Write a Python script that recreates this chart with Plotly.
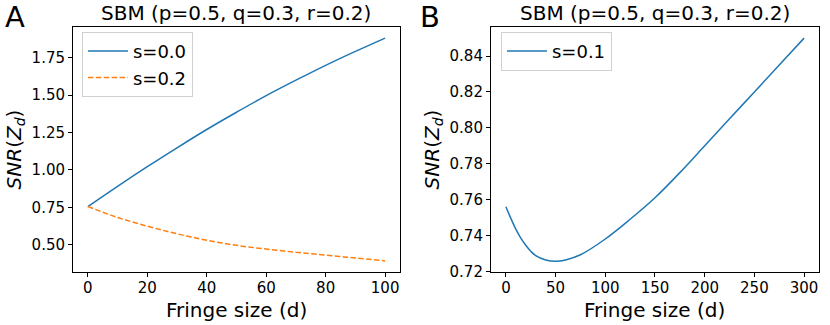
import plotly.graph_objects as go

# panel A: SNR vs fringe size for two s values
d_a = [0, 10, 20, 30, 40, 50, 60, 70, 80, 90, 100]
snr_s00 = [0.756, 0.891, 1.022, 1.148, 1.270, 1.385, 1.496, 1.599, 1.698, 1.791, 1.880]
snr_s02 = [0.756, 0.683, 0.625, 0.574, 0.531, 0.497, 0.472, 0.451, 0.432, 0.412, 0.393]

# panel B: s=0.1, longer range
d_b = [0, 5, 10, 15, 20, 25, 30, 40, 50, 60, 75, 100, 125, 150, 175, 200, 225, 250, 275, 300]
snr_s01 = [0.756, 0.7495, 0.7435, 0.7385, 0.7345, 0.7312, 0.7287, 0.7263, 0.7256, 0.7263,
           0.7292, 0.738, 0.749, 0.761, 0.775, 0.790, 0.805, 0.820, 0.835, 0.850]

ticks_a_x = [0, 20, 40, 60, 80, 100]
ticks_a_y = [0.50, 0.75, 1.00, 1.25, 1.50, 1.75]
ticks_b_x = [0, 50, 100, 150, 200, 250, 300]
ticks_b_y = [0.72, 0.74, 0.76, 0.78, 0.80, 0.82, 0.84]

title_txt = 'SBM (p=0.5, q=0.3, r=0.2)'
ylab = '<i>SNR</i>(<i>Z<sub>d</sub></i>)'
xlab = 'Fringe size (d)'

blue = '#1f77b4'
orange = '#ff7f0e'

fig = go.Figure()

fig.add_trace(go.Scatter(x=d_a, y=snr_s00, mode='lines', name='s=0.0',
                         line=dict(color=blue, width=1.5, shape='spline'),
                         xaxis='x', yaxis='y', legend='legend'))
fig.add_trace(go.Scatter(x=d_a, y=snr_s02, mode='lines', name='s=0.2',
                         line=dict(color=orange, width=1.5, dash='5.5px,2.4px', shape='spline'),
                         xaxis='x', yaxis='y', legend='legend'))
fig.add_trace(go.Scatter(x=d_b, y=snr_s01, mode='lines', name='s=0.1',
                         line=dict(color=blue, width=1.5, shape='spline'),
                         xaxis='x2', yaxis='y2', legend='legend2'))

axis_style = dict(showline=True, mirror=True, linecolor='black', linewidth=1,
                  ticks='outside', ticklen=4, tickcolor='black', showgrid=False,
                  zeroline=False, automargin=False, tickfont=dict(size=15, color='black'))

dom_a = [0, 0.4383]
dom_b = [0.5603, 1]

pw = 830 - 73 - 11
ph = 325 - 27 - 53

legend_style = dict(xanchor='left', yanchor='top', bgcolor='white', itemwidth=40,
                    bordercolor='#d0d0d0', borderwidth=1, font=dict(size=18))

fig.update_layout(
    width=830, height=325,
    margin=dict(l=73, r=11, t=27, b=53, autoexpand=False),
    paper_bgcolor='white', plot_bgcolor='white',
    font=dict(family='DejaVu Sans', color='black'),
    xaxis=dict(domain=dom_a, range=[-5, 105], tickvals=ticks_a_x, anchor='y',
               ticklabelstandoff=-2, **axis_style),
    yaxis=dict(domain=[0, 1], range=[0.319, 1.954], tickvals=ticks_a_y, tickformat='.2f',
               anchor='x', title=dict(text=ylab, font=dict(size=20), standoff=4), **axis_style),
    xaxis2=dict(domain=dom_b, range=[-15, 315], tickvals=ticks_b_x, anchor='y2',
                ticklabelstandoff=-2, **axis_style),
    yaxis2=dict(domain=[0, 1], range=[0.7196, 0.8562], tickvals=ticks_b_y, tickformat='.2f',
                anchor='x2', title=dict(text=ylab, font=dict(size=20), standoff=4), **axis_style),
    legend=dict(x=0.012, y=0.98, **legend_style),
    legend2=dict(x=0.5737, y=0.98, **legend_style),
)

for dom in (dom_a, dom_b):
    mid = sum(dom) / 2
    fig.add_annotation(text=title_txt, x=mid, y=1, xref='paper', yref='paper',
                       xanchor='center', yanchor='bottom', showarrow=False,
                       font=dict(size=20))
    fig.add_annotation(text=xlab, x=mid, y=-(296 - 272) / ph, xref='paper', yref='paper',
                       xanchor='center', yanchor='top', showarrow=False,
                       font=dict(size=20))

for letter, px in (('A', 15), ('B', 430)):
    fig.add_annotation(text=letter, x=(px - 73) / pw, y=1 + (27 - 17) / ph, xref='paper',
                       yref='paper', xanchor='center', yanchor='middle', showarrow=False,
                       font=dict(size=29))

# drop the default 8px body margin so the figure sits at the page corner
fig.write_html('out.html', config={'displayModeBar': False},
               post_script="document.body.style.margin='0px';")
